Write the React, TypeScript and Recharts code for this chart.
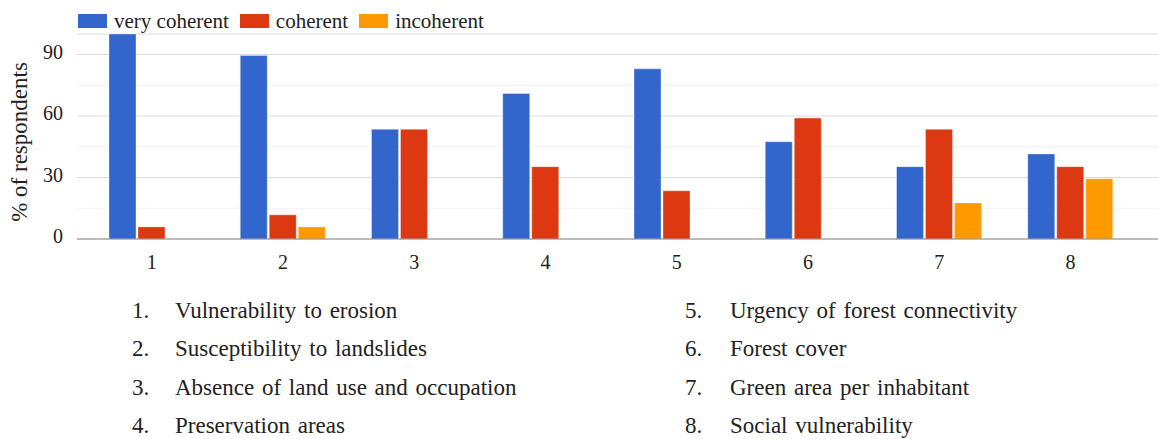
import { BarChart, Bar, XAxis, YAxis, CartesianGrid } from "recharts"

const categories = ["1", "2", "3", "4", "5", "6", "7", "8"]
const categoryNames = [
  "Vulnerability to erosion",
  "Susceptibility to landslides",
  "Absence of land use and occupation",
  "Preservation areas",
  "Urgency of forest connectivity",
  "Forest cover",
  "Green area per inhabitant",
  "Social vulnerability",
]
const veryCoherent = [100, 89.5, 53.5, 71, 83, 47.5, 35.3, 41.5]
const coherent = [5.9, 11.8, 53.5, 35.3, 23.5, 59, 53.5, 35.3]
const incoherent = [0, 5.9, 0, 0, 0, 0, 17.6, 29.4]
const seriesNames = ["very coherent", "coherent", "incoherent"]
const seriesColors = ["#3366cc", "#dc3912", "#ff9900"]
const yTicks = [0, 30, 60, 90]
const minorTicks = [15, 45, 75]

const FONT = "'Liberation Serif', 'Times New Roman', serif"

const data = categories.map((name, i) => ({
  name,
  veryCoherent: veryCoherent[i],
  coherent: coherent[i],
  incoherent: incoherent[i],
}))
const seriesKeys = ["veryCoherent", "coherent", "incoherent"]

function XTick({ x, y, payload }: any) {
  return (
    <text x={x} y={y} dy="0.71em" textAnchor="middle" fontSize={20} fill="#222" fontFamily={FONT}>
      {payload.value}
    </text>
  )
}

function YTick({ x, y, payload }: any) {
  return (
    <text x={x} y={y} dy={4} textAnchor="end" fontSize={20} fill="#222" fontFamily={FONT}>
      {payload.value}
    </text>
  )
}

export default function App() {
  return (
    <div
      style={{
        position: "absolute",
        left: 0,
        top: 0,
        width: 1158,
        height: 439,
        background: "#fff",
        overflow: "hidden",
        fontFamily: FONT,
        color: "#222",
      }}
    >
      <BarChart
        width={1158}
        height={280}
        data={data}
        margin={{ top: 34, right: 0, bottom: 0, left: 0 }}
        barGap={2}
        barSize={27}
      >
        <CartesianGrid vertical={false} horizontalValues={minorTicks} stroke="#f1f1f1" />
        <CartesianGrid vertical={false} stroke="#dcdcdc" />
        <XAxis
          dataKey="name"
          height={41}
          padding={{ left: 9, right: 22 }}
          tickLine={false}
          axisLine={{ stroke: "#888" }}
          tickMargin={10}
          interval={0}
          tick={<XTick />}
        />
        <YAxis
          width={77}
          domain={[0, 100]}
          ticks={yTicks}
          axisLine={false}
          tickLine={false}
          tickMargin={8}
          tick={<YTick />}
        />
        {seriesKeys.map((key, i) => (
          <Bar
            key={key}
            dataKey={key}
            name={seriesNames[i]}
            fill={seriesColors[i]}
            stroke="#ffffff"
            strokeOpacity={0.35}
            strokeWidth={1}
            isAnimationActive={false}
          />
        ))}
      </BarChart>

      {/* legend */}
      <div style={{ position: "absolute", left: 78, top: 10, display: "flex", alignItems: "center", fontSize: 21, lineHeight: "22px" }}>
        {seriesNames.map((name, i) => (
          <div key={name} style={{ display: "flex", alignItems: "center", marginRight: 11 }}>
            <div style={{ width: 29, height: 14, background: seriesColors[i], marginRight: 7 }} />
            <span>{name}</span>
          </div>
        ))}
      </div>

      {/* y axis title */}
      <div
        style={{
          position: "absolute",
          left: 20,
          top: 142,
          transform: "translate(-50%, -50%) rotate(-90deg)",
          whiteSpace: "nowrap",
          fontSize: 23,
          lineHeight: "26px",
        }}
      >
        % of respondents
      </div>

      {/* category key */}
      {categoryNames.map((label, i) => {
        const col = i < 4 ? 0 : 1
        const row = i % 4
        const numX = col === 0 ? 132 : 685
        const textX = col === 0 ? 175 : 730
        const top = 298 + row * 38.3
        return (
          <div key={label} style={{ position: "absolute", left: 0, top, fontSize: 23, lineHeight: "26px", whiteSpace: "nowrap" }}>
            <span style={{ position: "absolute", left: numX }}>{categories[i]}.</span>
            <span style={{ position: "absolute", left: textX, wordSpacing: 2 }}>{label}</span>
          </div>
        )
      })}
    </div>
  )
}
